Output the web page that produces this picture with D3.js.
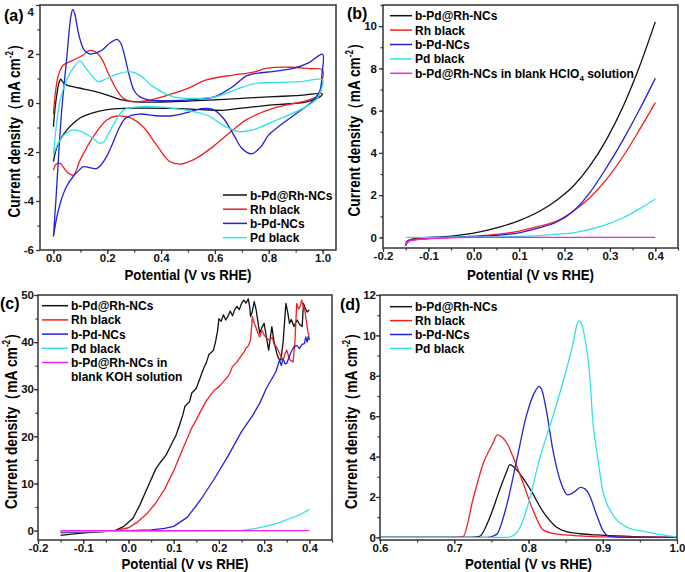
<!DOCTYPE html>
<html><head><meta charset="utf-8">
<script src="https://cdn.jsdelivr.net/npm/d3@7"></script>
<style>
body{margin:0;background:#fff}
svg{display:block;font-family:"Liberation Sans",Arial,sans-serif;font-weight:bold}
</style></head><body>
<svg id="fig" width="685" height="572"></svg>
<script>
// ---------- Panel (a): cyclic voltammograms [potential V, current mA cm-2] ----------
const cvPdRhNCs = [[0.0,-0.97],[0.006,-0.2],[0.012,0.3],[0.02,0.8],[0.027,0.97],[0.035,0.85],[0.05,0.73],[0.08,0.65],[0.11,0.58],[0.15,0.48],[0.2,0.32],[0.25,0.14],[0.3,0.06],[0.4,0.04],[0.5,0.08],[0.6,0.13],[0.7,0.19],[0.8,0.25],[0.9,0.3],[1.0,0.37],
  [0.99,0.25],[0.94,0.05],[0.88,-0.03],[0.815,-0.08],[0.75,-0.15],[0.69,-0.22],[0.63,-0.3],[0.55,-0.27],[0.44,-0.22],[0.3,-0.21],[0.2,-0.27],[0.14,-0.42],[0.1,-0.6],[0.074,-0.83],[0.05,-1.1],[0.025,-1.5],[0.01,-1.9],[0.0,-2.39]];
const cvRhBlack = [[0.0,-0.45],[0.005,0.2],[0.012,0.8],[0.02,1.2],[0.037,1.55],[0.074,1.75],[0.111,1.96],[0.133,2.14],[0.154,2.1],[0.17,1.95],[0.185,1.69],[0.2,1.3],[0.222,0.8],[0.24,0.45],[0.26,0.19],[0.296,0.05],[0.358,0.12],[0.444,0.39],[0.5,0.6],[0.568,0.94],[0.667,1.14],[0.74,1.25],[0.79,1.41],[0.877,1.46],[0.95,1.4],[1.0,1.35],
  [0.997,0.8],[0.988,0.33],[0.94,0.1],[0.88,-0.05],[0.815,-0.22],[0.716,-0.69],[0.667,-1.1],[0.593,-1.78],[0.53,-2.26],[0.475,-2.49],[0.432,-2.39],[0.383,-1.71],[0.333,-0.97],[0.284,-0.6],[0.235,-0.53],[0.198,-0.69],[0.148,-1.37],[0.099,-2.33],[0.074,-2.94],[0.049,-2.8],[0.025,-2.46],[0.01,-2.5],[0.0,-2.75]];
const cvPdNCs = [[0.0,-5.45],[0.01,-3.8],[0.02,-2.0],[0.03,-0.4],[0.04,0.8],[0.05,1.9],[0.058,2.9],[0.065,3.55],[0.072,3.82],[0.08,3.6],[0.09,3.0],[0.1,2.55],[0.115,2.15],[0.135,2.0],[0.154,2.03],[0.18,2.15],[0.21,2.45],[0.237,2.6],[0.25,2.45],[0.265,1.9],[0.28,1.2],[0.3,0.5],[0.32,0.26],[0.358,0.12],[0.45,0.1],[0.53,0.15],[0.6,0.26],[0.667,0.67],[0.716,1.1],[0.76,1.22],[0.815,1.28],[0.89,1.41],[0.95,1.65],[1.0,1.99],
  [0.998,1.2],[0.99,0.5],[0.96,0.05],[0.9,-0.45],[0.85,-0.85],[0.8,-1.3],[0.77,-1.8],[0.735,-2.08],[0.7,-1.85],[0.67,-1.3],[0.63,-0.6],[0.59,-0.25],[0.55,-0.23],[0.5,-0.38],[0.44,-0.52],[0.38,-0.52],[0.32,-0.45],[0.27,-0.6],[0.247,-0.96],[0.222,-1.6],[0.198,-2.18],[0.175,-2.55],[0.16,-2.68],[0.14,-2.65],[0.111,-2.6],[0.09,-2.8],[0.074,-2.99],[0.049,-3.4],[0.025,-4.1],[0.01,-4.8],[0.0,-5.45]];
const cvPdBlack = [[0.0,-2.12],[0.01,-1.0],[0.025,0.12],[0.049,0.94],[0.075,1.45],[0.099,1.73],[0.115,1.5],[0.136,1.21],[0.167,0.87],[0.198,1.0],[0.235,1.18],[0.284,1.28],[0.32,1.14],[0.37,0.67],[0.444,0.26],[0.506,0.19],[0.605,0.26],[0.69,0.6],[0.753,0.8],[0.815,0.83],[0.914,0.87],[1.0,0.94],
  [0.995,0.55],[0.975,0.12],[0.914,-0.29],[0.815,-0.76],[0.74,-1.1],[0.69,-1.17],[0.64,-0.97],[0.568,-0.49],[0.444,-0.22],[0.32,-0.15],[0.26,-0.29],[0.222,-0.9],[0.185,-1.6],[0.17,-1.64],[0.148,-1.45],[0.11,-1.2],[0.074,-1.1],[0.04,-1.3],[0.012,-1.78],[0.0,-2.12]];

// ---------- Panel (b): HClO4 LSV ----------
const lsvAcidPdRhNCs = [[-0.15,-0.4],[-0.148,-0.2],[-0.14,-0.1],[-0.12,-0.04],[-0.1,0.0],[-0.05,0.06],[0.0,0.2],[0.05,0.45],[0.1,0.8],[0.145,1.24],[0.185,1.8],[0.219,2.42],[0.255,3.36],[0.292,4.62],[0.329,6.2],[0.365,8.08],[0.4,10.2]];
const lsvAcidRhBlack = [[-0.15,-0.3],[-0.14,-0.12],[-0.1,-0.04],[-0.05,0.0],[0.0,0.06],[0.05,0.14],[0.1,0.3],[0.145,0.53],[0.182,0.77],[0.219,1.24],[0.255,1.87],[0.292,2.74],[0.329,3.83],[0.365,5.09],[0.4,6.38]];
const lsvAcidPdNCs = [[-0.15,-0.35],[-0.14,-0.15],[-0.1,-0.05],[-0.05,0.0],[0.0,0.04],[0.05,0.1],[0.1,0.22],[0.145,0.46],[0.182,0.72],[0.219,1.24],[0.255,2.1],[0.292,3.29],[0.329,4.62],[0.365,6.04],[0.4,7.53]];
const lsvAcidPdBlack = [[-0.15,0.0],[-0.1,0.0],[0.0,0.02],[0.1,0.05],[0.145,0.09],[0.182,0.15],[0.219,0.22],[0.255,0.38],[0.292,0.61],[0.329,0.93],[0.365,1.35],[0.4,1.82]];
const lsvAcidBlank = [[-0.15,-0.35],[-0.145,-0.2],[-0.13,-0.12],[-0.1,-0.06],[-0.05,-0.02],[0.0,0.0],[0.2,0.0],[0.4,0.0]];

// ---------- Panel (c): KOH LSV ----------
const lsvBasePdRhNCs = [[-0.15,-1.0],[-0.12,-0.7],[-0.09,-0.45],[-0.06,-0.25],[-0.03,0.0],[-0.01,0.9],[0.01,2.6],[0.025,5.4],[0.047,10.2],[0.061,13.2],[0.07,14.4],[0.083,16.0],[0.098,18.9],[0.105,20.2],[0.113,22.4],[0.12,24.5],[0.125,26.4],[0.13,26.9],[0.135,27.3],[0.14,29.2],[0.15,30.2],[0.16,32.8],[0.167,34.6],[0.172,35.6],[0.178,37.4],[0.183,37.8],[0.188,38.3],[0.193,40.3],[0.197,42.4],[0.2,45.0],[0.205,44.4],[0.21,45.8],[0.215,44.7],[0.22,45.5],[0.225,46.6],[0.23,45.6],[0.235,46.9],[0.24,47.6],[0.245,46.9],[0.25,48.2],[0.255,48.9],[0.26,48.3],[0.265,49.2],[0.268,47.5],[0.27,45.4],[0.274,46.6],[0.278,48.6],[0.282,47.0],[0.286,44.5],[0.29,41.9],[0.295,43.1],[0.3,44.0],[0.305,41.0],[0.31,38.3],[0.314,41.2],[0.317,43.3],[0.322,40.0],[0.328,37.6],[0.332,36.5],[0.337,36.2],[0.342,40.1],[0.348,48.2],[0.352,46.4],[0.356,44.0],[0.36,44.8],[0.366,43.3],[0.37,44.2],[0.373,44.7],[0.378,43.8],[0.384,43.3],[0.387,48.2],[0.39,47.4],[0.395,46.4],[0.4,46.8]];
const lsvBaseRhBlack = [[-0.15,-0.5],[-0.1,-0.3],[-0.05,-0.1],[-0.03,0.0],[0.0,0.6],[0.02,1.8],[0.04,3.5],[0.06,5.8],[0.08,8.8],[0.1,12.7],[0.12,17.3],[0.14,21.8],[0.15,23.5],[0.16,25.4],[0.17,27.2],[0.18,28.6],[0.19,29.8],[0.2,30.5],[0.21,31.6],[0.22,32.7],[0.225,33.6],[0.23,34.8],[0.24,35.8],[0.25,37.2],[0.255,37.8],[0.26,38.7],[0.265,39.2],[0.27,40.5],[0.274,45.4],[0.278,44.0],[0.281,43.3],[0.286,42.0],[0.29,41.1],[0.295,42.5],[0.3,41.5],[0.306,40.8],[0.312,40.4],[0.318,41.0],[0.322,39.5],[0.327,39.0],[0.332,38.0],[0.337,37.0],[0.342,36.2],[0.346,37.5],[0.35,38.3],[0.354,37.0],[0.357,36.2],[0.364,35.8],[0.368,40.0],[0.372,48.2],[0.376,47.0],[0.38,47.6],[0.383,48.9],[0.387,47.5],[0.39,46.8],[0.394,44.0],[0.397,41.9],[0.4,41.5]];
const lsvBasePdNCs = [[-0.15,-0.3],[-0.1,-0.25],[-0.05,-0.1],[0.0,0.0],[0.05,0.15],[0.08,0.45],[0.1,0.9],[0.13,2.8],[0.16,6.6],[0.19,11.0],[0.22,15.8],[0.25,21.0],[0.275,24.5],[0.29,27.0],[0.305,30.2],[0.326,33.7],[0.334,36.2],[0.338,35.0],[0.342,36.5],[0.346,35.4],[0.35,35.5],[0.355,36.8],[0.36,38.0],[0.366,39.0],[0.372,39.3],[0.378,38.6],[0.384,39.5],[0.389,39.7],[0.392,41.1],[0.395,40.0],[0.398,41.3],[0.4,40.4]];
const lsvBasePdBlack = [[-0.15,-0.2],[-0.1,-0.2],[0.0,-0.15],[0.1,-0.1],[0.2,-0.05],[0.25,0.05],[0.28,0.4],[0.3,0.85],[0.33,1.6],[0.35,2.3],[0.38,3.4],[0.4,4.5]];
const lsvBaseBlank = [[-0.15,0.0],[0.0,0.0],[0.2,0.0],[0.4,0.0]];

// ---------- Panel (d): CO stripping ----------
const coPdRhNCs = [[0.6,0],[0.72,0],[0.734,0.05],[0.748,1.0],[0.761,2.34],[0.77,3.2],[0.775,3.6],[0.78,3.5],[0.788,3.17],[0.802,2.4],[0.82,1.25],[0.837,0.53],[0.851,0.28],[0.87,0.18],[0.891,0.12],[0.936,0.05],[1.0,0.0]];
const coRhBlack = [[0.6,0],[0.7,0],[0.712,0.05],[0.725,1.85],[0.739,3.66],[0.752,4.65],[0.758,5.07],[0.765,4.95],[0.772,4.6],[0.779,4.0],[0.793,2.67],[0.806,1.35],[0.82,0.36],[0.837,0.17],[0.869,0.07],[0.9,0.02],[1.0,0]];
const coPdNCs = [[0.6,0],[0.745,0],[0.757,0.15],[0.77,1.5],[0.784,3.8],[0.797,6.0],[0.81,7.3],[0.814,7.48],[0.818,7.3],[0.824,6.3],[0.833,4.3],[0.844,2.67],[0.853,2.1],[0.862,2.26],[0.87,2.48],[0.876,2.4],[0.882,2.1],[0.891,1.19],[0.9,0.36],[0.909,0.05],[0.93,0],[1.0,0]];
const coPdBlack = [[0.6,0],[0.77,0],[0.78,0.1],[0.79,0.6],[0.8,1.7],[0.815,3.9],[0.833,6.0],[0.851,8.3],[0.86,9.6],[0.865,10.5],[0.868,10.72],[0.872,10.5],[0.876,9.85],[0.882,8.2],[0.887,5.6],[0.893,4.0],[0.9,2.3],[0.909,1.4],[0.918,0.9],[0.936,0.45],[0.958,0.28],[0.981,0.12],[1.0,0.02]];

// ---------- Labels / ticks ----------
const legendA = ["b-Pd@Rh-NCs","Rh black","b-Pd-NCs","Pd black"];
const legendB = ["b-Pd@Rh-NCs","Rh black","b-Pd-NCs","Pd black","b-Pd@Rh-NCs in blank HClO|4| solution"];
const legendC = ["b-Pd@Rh-NCs","Rh black","b-Pd-NCs","Pd black","b-Pd@Rh-NCs in\nblank KOH solution"];
const legendD = ["b-Pd@Rh-NCs","Rh black","b-Pd-NCs","Pd black"];
const xTicksA = [0.0,0.2,0.4,0.6,0.8,1.0];
const yTicksA = [-6,-4,-2,0,2,4];
const xTicksBC = [-0.2,-0.1,0.0,0.1,0.2,0.3,0.4];
const yTicksB = [0,2,4,6,8,10];
const yTicksC = [0,10,20,30,40,50];
const xTicksD = [0.6,0.7,0.8,0.9,1.0];
const yTicksD = [0,2,4,6,8,10,12];
const xTitle = "Potential (V vs RHE)";
const yTitle = "Current density（mA cm";

const colors = ["#111111","#ee2020","#2222d6","#30e2e8","#ee22ee"];

const svg = d3.select("#fig");

function seq(a,b,s){const r=[];for(let v=a;v<=b+1e-9;v+=s)r.push(+v.toFixed(4));return r;}

function panel(o){
  const x = d3.scaleLinear().domain(o.xd).range([o.l,o.r]);
  const y = d3.scaleLinear().domain(o.yd).range([o.b,o.t]);
  const g = svg.append("g");
  const cid = "clip_"+o.name;
  svg.append("clipPath").attr("id",cid).append("rect")
    .attr("x",o.l).attr("y",o.t).attr("width",o.r-o.l).attr("height",o.b-o.t);

  const styleAxis = fs => sel => {
    sel.select(".domain").remove();
    sel.selectAll("line").attr("stroke","#333").attr("stroke-width",1.2);
    sel.selectAll("text").attr("font-size",fs).attr("font-weight","bold").attr("fill","#111")
      .attr("font-family",'"Liberation Sans",Arial,sans-serif');
  };
  g.append("g").attr("transform",`translate(0,${o.b})`)
    .call(d3.axisBottom(x).tickValues(o.xMinor).tickSize(2.5).tickFormat("")).call(styleAxis(12));
  g.append("g").attr("transform",`translate(0,${o.b})`)
    .call(d3.axisBottom(x).tickValues(o.xTicks).tickSize(4).tickPadding(0).tickFormat(d=>d.toFixed(1))).call(styleAxis(11.5));
  g.append("g").attr("transform",`translate(${o.l},0)`)
    .call(d3.axisLeft(y).tickValues(o.yMinor).tickSize(2.5).tickFormat("")).call(styleAxis(12));
  const ya = g.append("g").attr("transform",`translate(${o.l},0)`)
    .call(d3.axisLeft(y).tickValues(o.yTicks).tickSize(4).tickPadding(o.yPad).tickFormat(d=>String(d))).call(styleAxis(11.5));
  if(o.topShift) ya.selectAll(".tick text").filter(d=>d===o.yd[1]).attr("dy","0.95em");

  const line = d3.line().x(d=>x(d[0])).y(d=>y(d[1])).curve(o.curve);
  const sg = g.append("g").attr("clip-path",`url(#${cid})`);
  o.series.forEach((s,i)=>{
    sg.append("path").datum(s).attr("d",line).attr("fill","none")
      .attr("stroke",colors[o.colorIdx[i]]).attr("stroke-width",1.3).attr("stroke-linejoin","round");
  });

  g.append("rect").attr("x",o.l).attr("y",o.t).attr("width",o.r-o.l).attr("height",o.b-o.t)
    .attr("fill","none").attr("stroke","#333").attr("stroke-width",1.5);

  // x title
  g.append("text").attr("x",(o.l+o.r)/2).attr("y",o.xtY).attr("text-anchor","middle")
    .attr("font-size",15).attr("textLength",127).attr("lengthAdjust","spacingAndGlyphs").text(xTitle);
  // y title
  const yt = g.append("text").attr("transform",`translate(${o.ytX},${(o.t+o.b)/2}) rotate(-90)`)
    .attr("text-anchor","middle").attr("font-size",17).attr("textLength",o.ytLen).attr("lengthAdjust","spacingAndGlyphs");
  yt.append("tspan").text(yTitle);
  yt.append("tspan").attr("font-size",10).attr("dy",-7).text("-2");
  yt.append("tspan").attr("dy",7).text("）");
  // panel letter
  g.append("text").attr("x",o.lx).attr("y",o.ly).attr("font-size",16).text(o.letter);

  // legend
  o.legend.forEach((t,i)=>{
    const yy = o.legY + i*o.legDy;
    g.append("line").attr("x1",o.legX).attr("x2",o.legX+o.legLen).attr("y1",yy).attr("y2",yy)
      .attr("stroke",colors[o.colorIdx[i]]).attr("stroke-width",1.5);
    const tx = g.append("text").attr("x",o.legX+o.legLen+3).attr("y",yy+4.5).attr("font-size",12);
    if(t.includes("|")){
      const p=t.split("|");
      tx.append("tspan").text(p[0]);
      tx.append("tspan").attr("font-size",8).attr("dy",3).text(p[1]);
      tx.append("tspan").attr("dy",-3).text(p[2]);
    } else if(t.includes("\n")){
      const p=t.split("\n");
      tx.append("tspan").text(p[0]);
      tx.append("tspan").attr("x",o.legX+o.legLen+3).attr("dy",14.4).text(p[1]);
    } else tx.text(t);
  });
}

panel({name:"a",letter:"(a)",lx:4,ly:21,l:40,r:336,t:5,b:250,xd:[-0.05,1.05],yd:[-6,4],topShift:true,yPad:2,
  xTicks:xTicksA,xMinor:seq(0,1,0.1),yTicks:yTicksA,yMinor:seq(-6,4,1),
  series:[cvPdRhNCs,cvRhBlack,cvPdNCs,cvPdBlack],colorIdx:[0,1,2,3],curve:d3.curveCatmullRom.alpha(0.5),
  xtY:280,ytX:20,ytLen:180,legend:legendA,legX:223,legLen:24,legY:195,legDy:14.2});

panel({name:"b",letter:"(b)",lx:347,ly:19,l:383,r:678,t:5,b:248,xd:[-0.2,0.45],yd:[-0.5,11],yPad:2,
  xTicks:xTicksBC,xMinor:seq(-0.2,0.45,0.05),yTicks:yTicksB,yMinor:seq(0,11,1),
  series:[lsvAcidPdRhNCs,lsvAcidRhBlack,lsvAcidPdNCs,lsvAcidPdBlack,lsvAcidBlank],colorIdx:[0,1,2,3,4],curve:d3.curveMonotoneX,
  xtY:280,ytX:360,ytLen:180,legend:legendB,legX:390,legLen:22,legY:15.7,legDy:14.4});

panel({name:"c",letter:"(c)",lx:0,ly:309,l:38,r:332,t:295,b:540,xd:[-0.2,0.45],yd:[-2,50],yPad:0,
  xTicks:xTicksBC,xMinor:seq(-0.2,0.45,0.05),yTicks:yTicksC,yMinor:seq(0,50,5),
  series:[lsvBasePdRhNCs,lsvBaseRhBlack,lsvBasePdNCs,lsvBasePdBlack,lsvBaseBlank],colorIdx:[0,1,2,3,4],curve:d3.curveLinear,
  xtY:568.5,ytX:17,ytLen:183,legend:legendC,legX:42,legLen:26,legY:305.7,legDy:14.2});

panel({name:"d",letter:"(d)",lx:340,ly:310,l:380,r:677,t:295,b:540,xd:[0.6,1.0],yd:[-0.13,12],yPad:0,
  xTicks:xTicksD,xMinor:seq(0.6,1.0,0.05),yTicks:yTicksD,yMinor:seq(0,12,1),
  series:[coPdRhNCs,coRhBlack,coPdNCs,coPdBlack],colorIdx:[0,1,2,3],curve:d3.curveMonotoneX,
  xtY:568.5,ytX:357,ytLen:183,legend:legendD,legX:390,legLen:22,legY:306.7,legDy:13.9});
</script></body></html>
